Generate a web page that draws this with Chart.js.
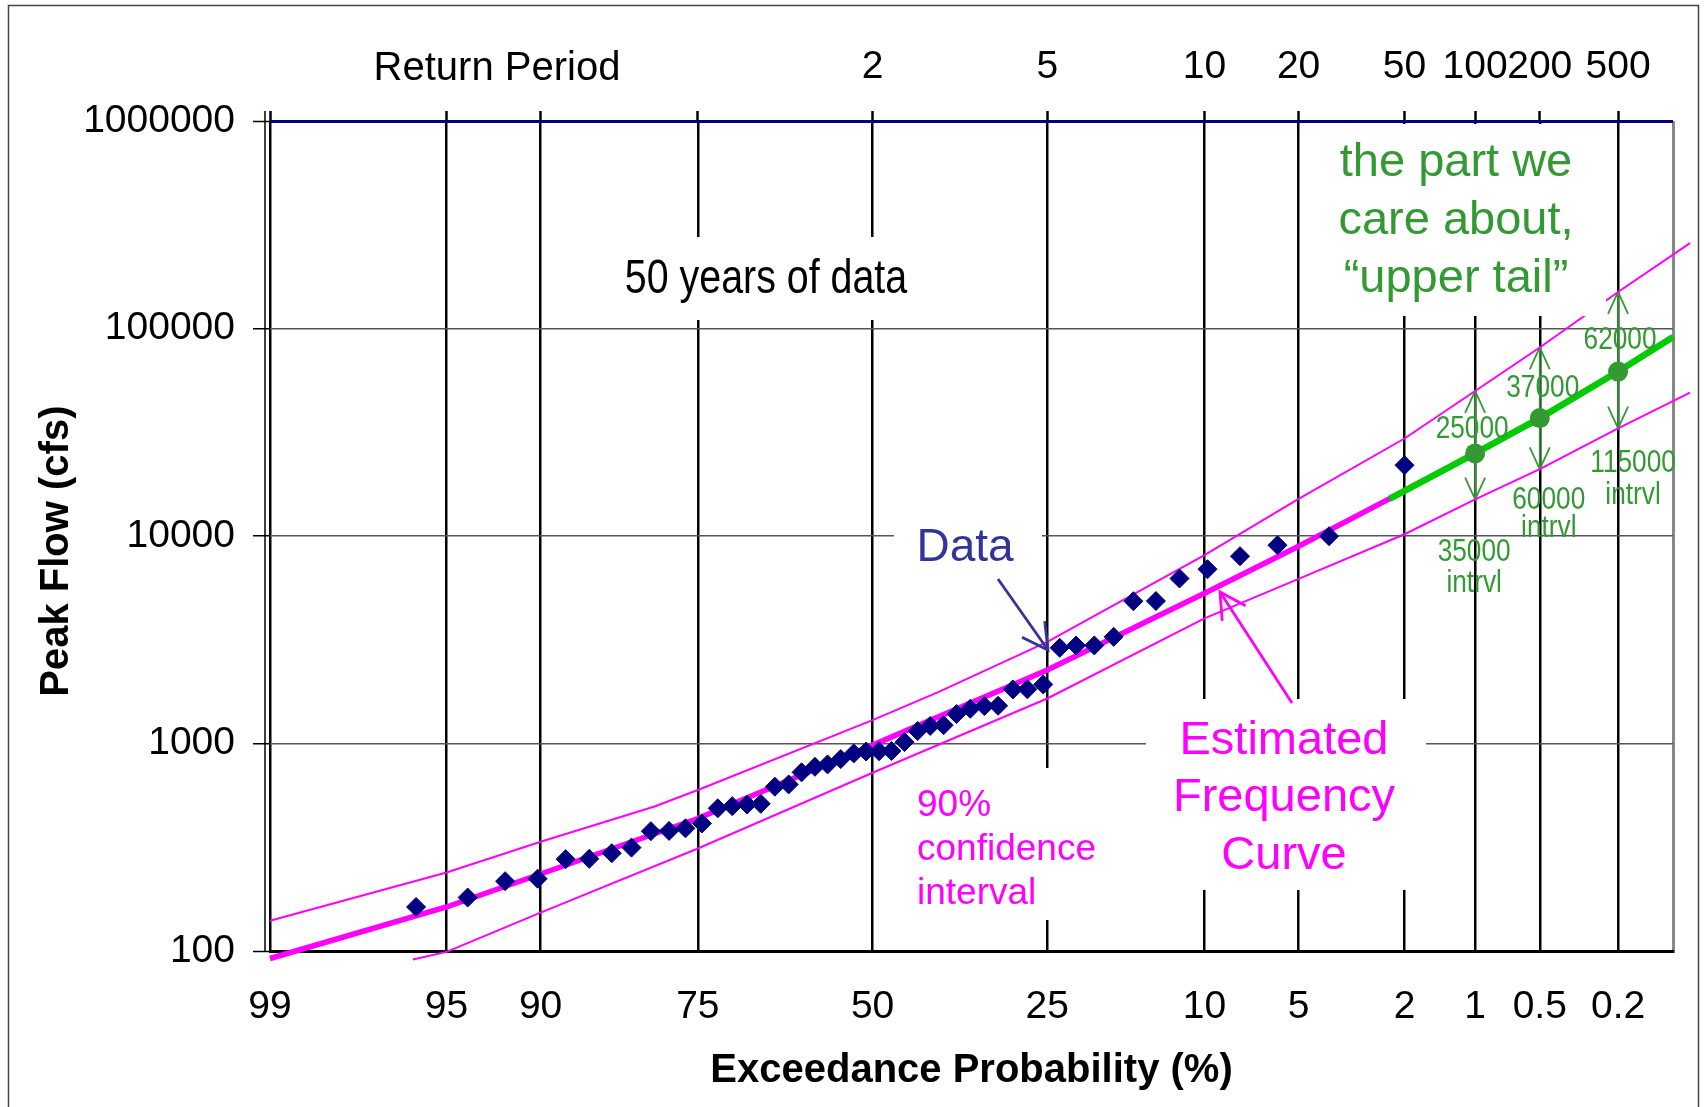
<!DOCTYPE html>
<html>
<head>
<meta charset="utf-8">
<title>Flood frequency curve</title>
<script src="https://cdn.jsdelivr.net/npm/chart.js@4.4.1/dist/chart.umd.min.js"></script>
<style>
  html, body { margin: 0; padding: 0; background: #fff; }
  canvas { display: block; }
</style>
</head>
<body>
<canvas id="myChart" width="1706" height="1107"></canvas>
<script>
// probability axis (exceedance %, bottom) and return period (years, top)
const probTicks = [99, 95, 90, 75, 50, 25, 10, 5, 2, 1, 0.5, 0.2, 0.1];
const probLabels = ['99', '95', '90', '75', '50', '25', '10', '5', '2', '1', '0.5', '0.2', ''];
const returnLabels = ['', '', '', '', '2', '5', '10', '20', '50', '100', '200', '500', ''];
const flowTicks = [100, 1000, 10000, 100000, 1000000];

// ranked annual peaks (plotting position %, cfs)
const dataPct = [96.1, 94.1, 92.2, 90.2, 88.2, 86.3, 84.3, 82.4, 80.4, 78.4, 76.5, 74.5, 72.5, 70.6, 68.6, 66.7,
  64.7, 62.7, 60.8, 58.8, 56.9, 54.9, 52.9, 51.0, 49.0, 47.1, 45.1, 43.1, 41.2, 39.2, 37.3, 35.3, 33.3, 31.4,
  29.4, 27.5, 25.5, 23.5, 21.6, 19.6, 17.6, 15.7, 13.7, 11.8, 9.8, 7.8, 5.9, 3.9, 2.0];
const dataFlow = [163, 181, 217, 223, 277, 278, 296, 315, 378, 379, 390, 412, 487, 499, 508, 512,
  619, 635, 726, 772, 793, 841, 896, 915, 918, 920, 1016, 1148, 1215, 1225, 1386, 1470, 1515, 1520,
  1822, 1825, 1926, 2892, 2965, 2970, 3266, 4850, 4860, 6240, 6918, 7993, 9030, 9980, 21930];

// estimated frequency curve
const curvePct = [99, 95, 90, 75, 50, 25, 10, 5, 2, 1, 0.5, 0.2, 0.1, 0.08];
const curveFlow = [92, 163, 235, 435, 982, 2260, 5300, 8930, 16500, 25000, 37000, 62000, 91000, 102000];

// 90% confidence limits
const upperPct = [99, 95, 90, 80, 75, 50, 40, 25, 10, 5, 2, 1, 0.5, 0.2, 0.08];
const upperFlow = [140, 239, 336, 497, 597, 1296, 1769, 3090, 8090, 15100, 29500, 50000, 81000, 150000, 258000];
const lowerPct = [96.2, 95, 90, 75, 50, 25, 10, 5, 2, 1, 0.5, 0.2, 0.08];
const lowerFlow = [91, 99, 153, 312, 723, 1648, 4006, 6210, 10200, 15000, 21000, 33000, 49100];

// upper tail
const tailPct = [2.3, 2, 1, 0.5, 0.2, 0.1];
const tailFlow = [15100, 16500, 25000, 37000, 62000, 91000];
const designPct = [1, 0.5, 0.2];
const designFlow = [25000, 37000, 62000];
const designUpper = [50000, 81000, 150000];
const designLower = [15000, 21000, 33000];
const designLabels = ['25000', '37000', '62000'];
const intervalLabels = ['35000', '60000', '115000'];

const sans = "'Liberation Sans', Arial, sans-serif";
const green = '#339933';

// inverse normal cdf (Acklam)
function probit(p) {
    const a = [-3.969683028665376e+01, 2.209460984245205e+02, -2.759285104469687e+02, 1.383577518672690e+02, -3.066479806614716e+01, 2.506628277459239e+00];
    const b = [-5.447609879822406e+01, 1.615858368580409e+02, -1.556989798598866e+02, 6.680131188771972e+01, -1.328068155288572e+01];
    const c = [-7.784894002430293e-03, -3.223964580411365e-01, -2.400758277161838e+00, -2.549732539343734e+00, 4.374664141464968e+00, 2.938163982698783e+00];
    const d = [7.784695709041462e-03, 3.224671290700398e-01, 2.445134137142996e+00, 3.754408661907416e+00];
    const lo = 0.02425;
    let q, r;
    if (p < lo) {
        q = Math.sqrt(-2 * Math.log(p));
        return (((((c[0]*q+c[1])*q+c[2])*q+c[3])*q+c[4])*q+c[5]) / ((((d[0]*q+d[1])*q+d[2])*q+d[3])*q+1);
    }
    if (p > 1 - lo) {
        q = Math.sqrt(-2 * Math.log(1 - p));
        return -(((((c[0]*q+c[1])*q+c[2])*q+c[3])*q+c[4])*q+c[5]) / ((((d[0]*q+d[1])*q+d[2])*q+d[3])*q+1);
    }
    q = p - 0.5;
    r = q * q;
    return (((((a[0]*r+a[1])*r+a[2])*r+a[3])*r+a[4])*r+a[5])*q / (((((b[0]*r+b[1])*r+b[2])*r+b[3])*r+b[4])*r+1);
}

const toZ = pct => probit(1 - pct / 100);
const pts = (pcts, vals) => pcts.map((p, i) => ({x: toZ(p), y: vals[i]}));
const last = probTicks.length - 1;

// text boxes, positions relative to the plot area's top-left corner
const notes = [
    {lines: ['50 years of data'], x: 496, y: 159, gap: 0, align: 'center', size: 48, narrow: true, color: '#000', box: [356, 116, 280, 83]},
    {lines: ['Data'], x: 695, y: 427, gap: 0, align: 'center', size: 46, color: '#333399', box: [624, 394, 148, 67]},
    {lines: ['90%', 'confidence', 'interval'], x: 647, y: 685, gap: 44, align: 'left', size: 37, color: '#ff00ff', box: [642, 647, 190, 152]},
    {lines: ['Estimated', 'Frequency', 'Curve'], x: 1014, y: 620, gap: 57.5, align: 'center', size: 47, color: '#ff00ff', box: [876, 578, 280, 191]},
    {lines: ['the part we', 'care about,', '\u201Cupper tail\u201D'], x: 1186, y: 42, gap: 58, align: 'center', size: 47, color: green, box: [1066, 3, 270, 192]},
];
const pointers = [
    {from: [728, 458], to: [778, 529], color: '#333399'},
    {from: [1022, 582], to: [950, 471], color: '#ff00ff'},
];
// label offsets from the design point / lower arrow tip
const designOffsets = [[-3, -24], [3, -30], [2, -31]];
const intervalOffsets = [[-1, 53, 84], [9, 31, 59], [15, 35, 67]];

function arrowHead(ctx, fx, fy, tx, ty, len, spread) {
    const ang = Math.atan2(fy - ty, fx - tx);
    ctx.beginPath();
    ctx.moveTo(tx + len * Math.cos(ang - spread), ty + len * Math.sin(ang - spread));
    ctx.lineTo(tx, ty);
    ctx.lineTo(tx + len * Math.cos(ang + spread), ty + len * Math.sin(ang + spread));
    ctx.stroke();
}

// condensed text (no narrow face installed, so squeeze the regular one)
function drawText(ctx, text, x, y, size, narrow) {
    ctx.save();
    ctx.translate(x, y);
    if (narrow) ctx.scale(0.82, 1);
    ctx.font = size + 'px ' + sans;
    ctx.fillText(text, 0, 0);
    ctx.restore();
}

const annotations = {
    id: 'annotations',
    beforeDraw(chart) {
        const ctx = chart.ctx;
        ctx.save();
        ctx.fillStyle = '#fff';
        ctx.fillRect(0, 0, chart.width, chart.height);
        ctx.strokeStyle = '#444';
        ctx.lineWidth = 1.5;
        ctx.strokeRect(8.5, 5.5, chart.width - 16, chart.height + 20);
        ctx.restore();
    },
    beforeDatasetsDraw(chart) {
        const ctx = chart.ctx;
        const area = chart.chartArea;
        const xs = chart.scales.x, ys = chart.scales.y;
        ctx.save();
        // outer frame line of the value axis
        ctx.strokeStyle = '#000';
        ctx.lineWidth = 1.5;
        ctx.beginPath();
        ctx.moveTo(area.left - 5, area.top - 10);
        ctx.lineTo(area.left - 5, area.bottom);
        ctx.stroke();
        // confidence range arrows at the design floods
        ctx.strokeStyle = green;
        ctx.lineWidth = 1.8;
        designPct.forEach((p, i) => {
            const x = xs.getPixelForValue(toZ(p));
            const top = ys.getPixelForValue(designUpper[i]);
            const bot = ys.getPixelForValue(designLower[i]);
            ctx.beginPath();
            ctx.moveTo(x, top);
            ctx.lineTo(x, bot);
            ctx.stroke();
            arrowHead(ctx, x, bot, x, top, 24, 0.43);
            arrowHead(ctx, x, top, x, bot, 24, 0.43);
        });
        ctx.restore();
    },
    afterDatasetsDraw(chart) {
        const ctx = chart.ctx;
        const area = chart.chartArea;
        const xs = chart.scales.x, ys = chart.scales.y;
        ctx.save();
        ctx.textBaseline = 'middle';

        ctx.fillStyle = '#000';
        ctx.textAlign = 'center';
        drawText(ctx, 'Return Period', area.left + 227, area.top - 52, 40, false);

        notes.forEach(n => {
            ctx.fillStyle = '#fff';
            ctx.fillRect(area.left + n.box[0], area.top + n.box[1], n.box[2], n.box[3]);
            ctx.fillStyle = n.color;
            ctx.textAlign = n.align;
            n.lines.forEach((t, j) => drawText(ctx, t, area.left + n.x, area.top + n.y + j * n.gap, n.size, n.narrow));
        });

        ctx.lineWidth = 2.8;
        pointers.forEach(a => {
            const fx = area.left + a.from[0], fy = area.top + a.from[1];
            const tx = area.left + a.to[0], ty = area.top + a.to[1];
            ctx.strokeStyle = a.color;
            ctx.beginPath();
            ctx.moveTo(fx, fy);
            ctx.lineTo(tx, ty);
            ctx.stroke();
            arrowHead(ctx, fx, fy, tx, ty, 29, 0.5);
        });

        ctx.fillStyle = green;
        ctx.textAlign = 'center';
        designPct.forEach((p, i) => {
            const x = xs.getPixelForValue(toZ(p));
            const y = ys.getPixelForValue(designFlow[i]);
            const bot = ys.getPixelForValue(designLower[i]);
            drawText(ctx, designLabels[i], x + designOffsets[i][0], y + designOffsets[i][1], 32, true);
            const o = intervalOffsets[i];
            drawText(ctx, intervalLabels[i], x + o[0], bot + o[1], 32, true);
            drawText(ctx, 'intrvl', x + o[0], bot + o[2], 32, true);
        });
        ctx.restore();
    }
};

const tickFont = {family: sans, size: 39};

new Chart(document.getElementById('myChart'), {
    type: 'scatter',
    data: {
        datasets: [
            {label: 'Design floods', data: pts(designPct, designFlow), pointRadius: 10, backgroundColor: green, borderWidth: 0, clip: false},
            {label: 'Data', data: pts(dataPct, dataFlow), pointStyle: 'rectRot', pointRadius: 9.5, backgroundColor: '#000080', borderColor: '#000080', borderWidth: 1, clip: false},
            {label: 'Upper tail', data: pts(tailPct, tailFlow), showLine: true, borderColor: '#00cc00', borderWidth: 6.5, pointRadius: 0, clip: false},
            {label: 'Estimated Frequency Curve', data: pts(curvePct, curveFlow), showLine: true, borderColor: '#ff00ff', borderWidth: 5.5, pointRadius: 0, clip: false},
            {label: 'Upper 90%', data: pts(upperPct, upperFlow), showLine: true, borderColor: '#ff00ff', borderWidth: 2, pointRadius: 0, clip: false},
            {label: 'Lower 90%', data: pts(lowerPct, lowerFlow), showLine: true, borderColor: '#ff00ff', borderWidth: 2, pointRadius: 0, clip: false},
        ]
    },
    options: {
        responsive: false,
        animation: false,
        layout: {padding: {left: 0, top: 0, right: 32, bottom: 0}},
        plugins: {legend: {display: false}, tooltip: {enabled: false}},
        scales: {
            x: {
                type: 'linear',
                position: 'bottom',
                min: toZ(99),
                max: toZ(0.1),
                afterBuildTicks: s => { s.ticks = probTicks.map(p => ({value: toZ(p)})); },
                afterFit: s => { s.height = 156; },
                ticks: {autoSkip: false, maxRotation: 0, minRotation: 0, padding: 33, color: '#000', font: tickFont,
                    callback: (v, i) => probLabels[i]},
                grid: {drawTicks: false,
                    color: c => c.index === last ? '#888' : '#000',
                    lineWidth: c => c.index === last ? 3 : 2.5},
                border: {display: true, color: '#000', width: 3},
                title: {display: true, text: 'Exceedance Probability (%)', color: '#000',
                    font: {family: sans, size: 40, weight: 'bold'}, padding: {top: 0, bottom: 12}}
            },
            x2: {
                type: 'linear',
                position: 'top',
                min: toZ(99),
                max: toZ(0.1),
                afterBuildTicks: s => { s.ticks = probTicks.map(p => ({value: toZ(p)})); },
                afterFit: s => { s.height = 121; },
                ticks: {autoSkip: false, maxRotation: 0, minRotation: 0, padding: 20, color: '#000', font: tickFont,
                    callback: (v, i) => returnLabels[i]},
                grid: {drawOnChartArea: false, drawTicks: true, tickLength: 10, tickWidth: 2.5,
                    tickColor: c => c.index === last ? 'rgba(0,0,0,0)' : '#000'},
                border: {display: false}
            },
            y: {
                type: 'logarithmic',
                min: 100,
                max: 1000000,
                afterBuildTicks: s => { s.ticks = flowTicks.map(v => ({value: v})); },
                afterFit: s => { s.width = 270; },
                ticks: {padding: 18, color: '#000', font: tickFont, callback: v => String(v)},
                grid: {tickLength: 17, tickColor: '#000', tickWidth: 1.5,
                    color: c => c.tick.value === 1000000 ? '#000080' : (c.tick.value === 100 ? '#000' : '#555'),
                    lineWidth: c => (c.tick.value === 1000000 || c.tick.value === 100) ? 3 : 1.5},
                border: {display: false},
                title: {display: true, text: 'Peak Flow (cfs)  \u2009', color: '#000',
                    font: {family: sans, size: 40, weight: 'bold'}, padding: {top: 33, bottom: 0}}
            }
        }
    },
    plugins: [annotations]
});
</script>
</body>
</html>
